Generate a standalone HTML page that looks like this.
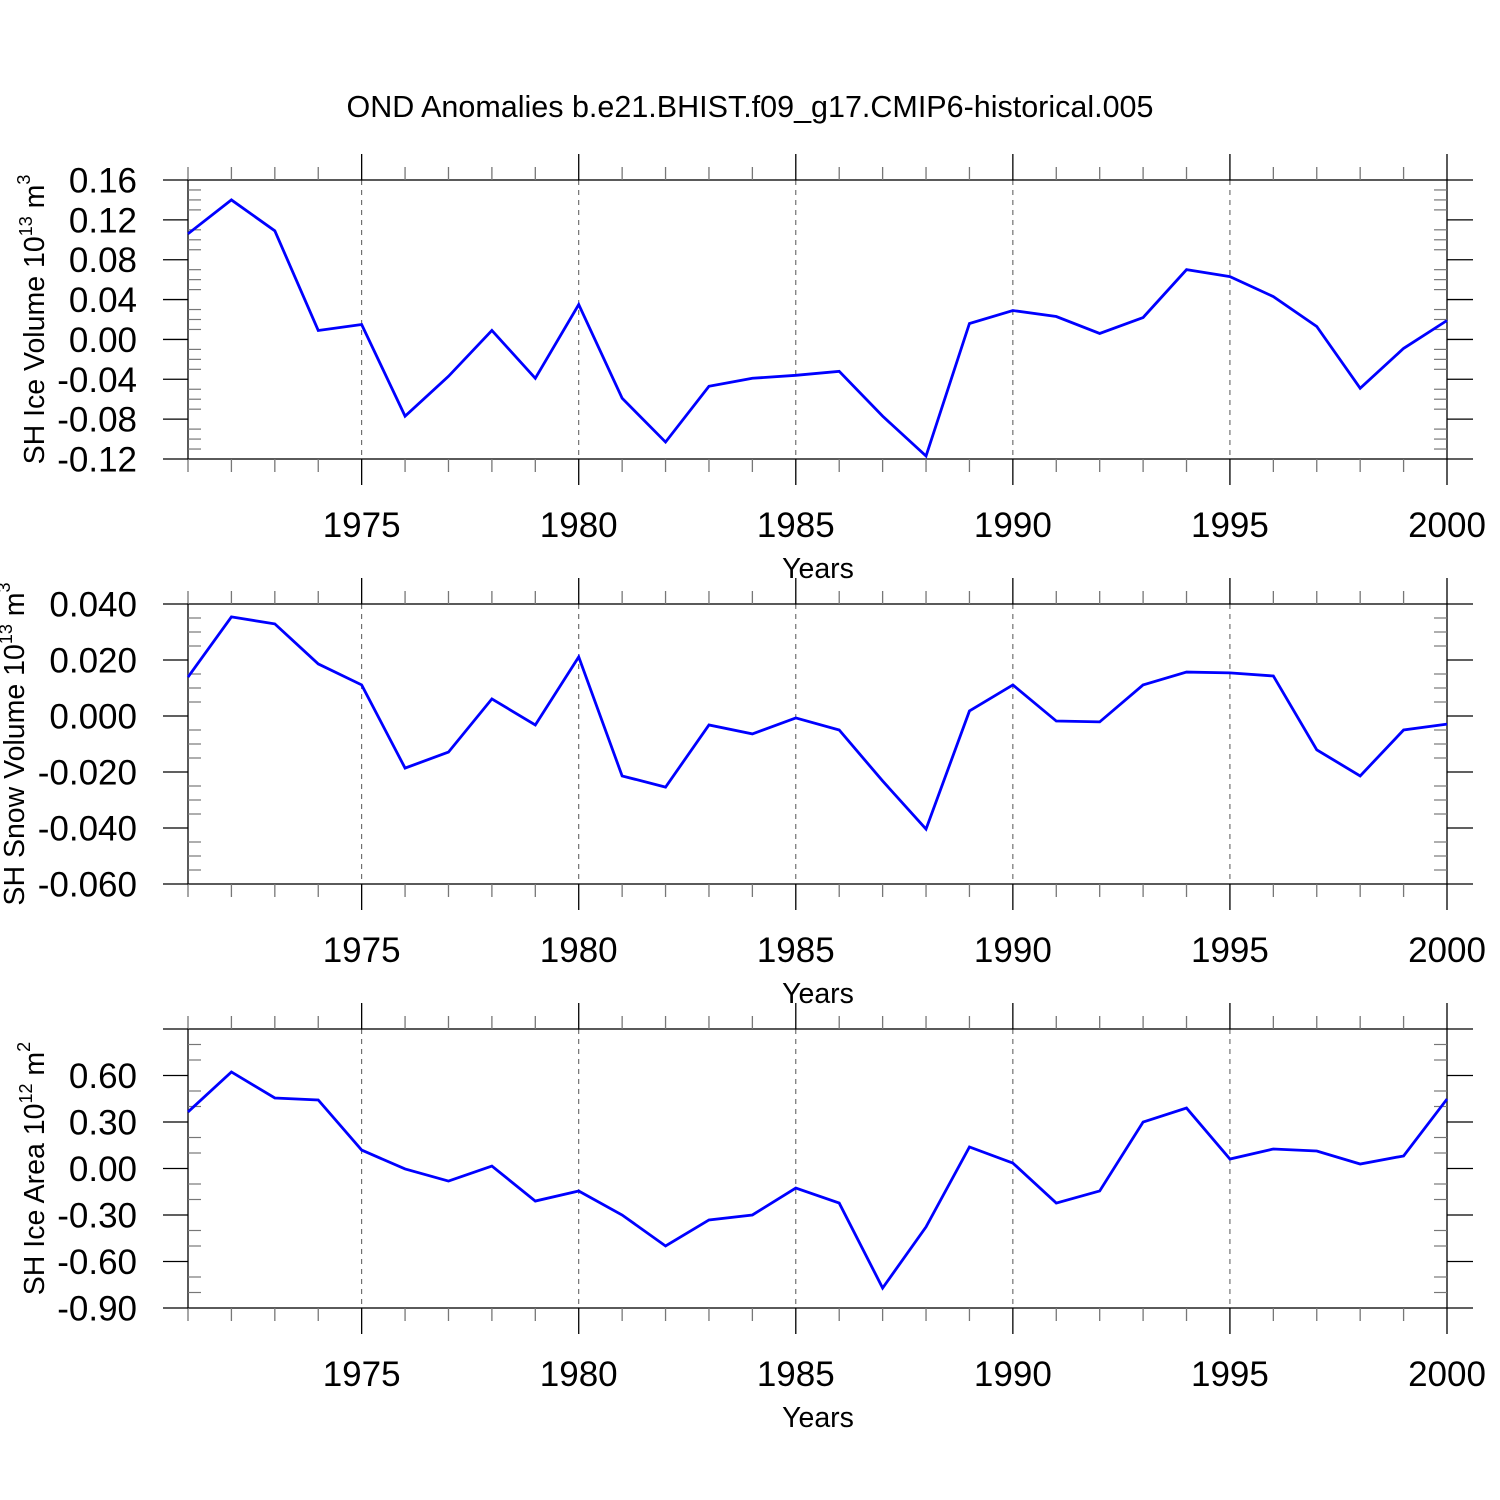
<!DOCTYPE html>
<html><head><meta charset="utf-8"><style>
html,body{margin:0;padding:0;background:#fff}
svg{display:block;font-family:"Liberation Sans",Arial,sans-serif}
</style></head><body>
<svg id="s" width="1500" height="1500" viewBox="0 0 1500 1500">
<text x="750" y="117" text-anchor="middle" font-size="30.5">OND Anomalies b.e21.BHIST.f09_g17.CMIP6-historical.005</text>
</svg>
<script>
const years = [1971,1972,1973,1974,1975,1976,1977,1978,1979,1980,1981,1982,1983,1984,1985,1986,1987,1988,1989,1990,1991,1992,1993,1994,1995,1996,1997,1998,1999,2000];
const iceVolume = [0.106,0.140,0.109,0.009,0.015,-0.077,-0.037,0.009,-0.039,0.035,-0.059,-0.103,-0.047,-0.039,-0.036,-0.032,-0.077,-0.117,0.016,0.029,0.023,0.006,0.022,0.070,0.063,0.043,0.013,-0.049,-0.009,0.019];
const snowVolume = [0.0139,0.0354,0.0329,0.0186,0.0111,-0.0186,-0.0129,0.0061,-0.0032,0.0211,-0.0214,-0.0254,-0.0032,-0.0064,-0.0007,-0.005,-0.0232,-0.0404,0.0018,0.0111,-0.0018,-0.0021,0.0111,0.0157,0.0154,0.0143,-0.0121,-0.0214,-0.005,-0.0029];
const iceArea = [0.365,0.623,0.455,0.442,0.119,-0.003,-0.081,0.016,-0.210,-0.145,-0.300,-0.500,-0.332,-0.300,-0.126,-0.223,-0.771,-0.377,0.139,0.035,-0.223,-0.145,0.300,0.390,0.061,0.126,0.113,0.029,0.081,0.448];
const xTickYears = [1975,1980,1985,1990,1995,2000];
const ticks1 = ["0.16","0.12","0.08","0.04","0.00","-0.04","-0.08","-0.12"];
const ticks2 = ["0.040","0.020","0.000","-0.020","-0.040","-0.060"];
const ticks3 = ["0.60","0.30","0.00","-0.30","-0.60","-0.90"];

const NS="http://www.w3.org/2000/svg", svg=document.getElementById('s');
function el(t,a,p){const e=document.createElementNS(NS,t);for(const k in a)e.setAttribute(k,a[k]);(p||svg).appendChild(e);return e;}
const X0=188,X1=1447;
const xs=y=>X0+(y-1971)*(X1-X0)/29;

function panel(name,top,bot,ymax,ymin,data,ticks,major,minorStep,titleMain,sup,unit,titleX){
  const g=el('g',{});
  
  
  const ys=v=>top+(ymax-v)*(bot-top)/(ymax-ymin);
  xTickYears.forEach(y=>{if(y<2000){const l=el('line',{x1:xs(y),x2:xs(y),y1:top,y2:bot,stroke:'#555','stroke-width':1,'stroke-dasharray':'5,5'},g);
    }});
  el('rect',{x:X0,y:top,width:X1-X0,height:bot-top,fill:'none',stroke:'#000','stroke-width':1.3},g);
  for(let y=1971;y<=2000;y++){
    const maj=y%5===0, x=xs(y);
    const c=maj?'#000':'#777', len=maj?26:13;
    el('line',{x1:x,x2:x,y1:top-len,y2:top,stroke:c,'stroke-width':1.3},g);
    el('line',{x1:x,x2:x,y1:bot,y2:bot+len,stroke:c,'stroke-width':1.3},g);
  }
  xTickYears.forEach(y=>{const t=el('text',{x:xs(y),y:bot+78,'text-anchor':'middle','font-size':35},g);t.textContent=y;
    });
  const xt=el('text',{x:818,y:bot+119,'text-anchor':'middle','font-size':28.5},g);xt.textContent='Years';
  
  const nMin=Math.round((ymax-ymin)/minorStep);
  for(let i=0;i<=nMin;i++){const v=ymax-i*minorStep,y=ys(v);
    const isMaj=Math.abs(Math.round((v-ymin)/major)*major-(v-ymin))<1e-9;
    if(isMaj){el('line',{x1:X0-25,x2:X0,y1:y,y2:y,stroke:'#000','stroke-width':1.3},g);el('line',{x1:X1,x2:X1+26,y1:y,y2:y,stroke:'#000','stroke-width':1.3},g);}
    else{el('line',{x1:X0,x2:X0+13,y1:y,y2:y,stroke:'#777','stroke-width':1.2},g);el('line',{x1:X1-13,x2:X1,y1:y,y2:y,stroke:'#777','stroke-width':1.2},g);}
  }
  ticks.forEach(s=>{const t=el('text',{x:137,y:ys(parseFloat(s))+12.5,'text-anchor':'end','font-size':35},g);t.textContent=s;
    });
  const mid=(top+bot)/2;
  const yt=el('text',{x:0,y:0,'text-anchor':'middle','font-size':28.5,transform:`translate(${titleX},${mid}) rotate(-90)`},g);
  
  const a=document.createElementNS(NS,'tspan');a.textContent=titleMain;yt.appendChild(a);
  const b=document.createElementNS(NS,'tspan');b.setAttribute('dy','-12');b.setAttribute('font-size','18');b.textContent=sup;yt.appendChild(b);
  const c=document.createElementNS(NS,'tspan');c.setAttribute('dy','12');c.textContent=' m';yt.appendChild(c);
  const d=document.createElementNS(NS,'tspan');d.setAttribute('dy','-14');d.setAttribute('font-size','18');d.textContent=unit;yt.appendChild(d);
  const pts=data.map((v,i)=>xs(years[i])+','+ys(v)).join(' ');
  const pl=el('polyline',{points:pts,fill:'none',stroke:'#0000ff','stroke-width':2.8,'stroke-linejoin':'miter'},g);
  
}
panel('ice-volume',180,459,0.16,-0.12,iceVolume,ticks1,0.04,0.01,'SH Ice Volume 10','13','3',44);
panel('snow-volume',604,884,0.04,-0.06,snowVolume,ticks2,0.02,0.005,'SH Snow Volume 10','13','3',24);
panel('ice-area',1029,1308,0.9,-0.9,iceArea,ticks3,0.3,0.1,'SH Ice Area 10','12','2',44);
</script>
</body></html>
